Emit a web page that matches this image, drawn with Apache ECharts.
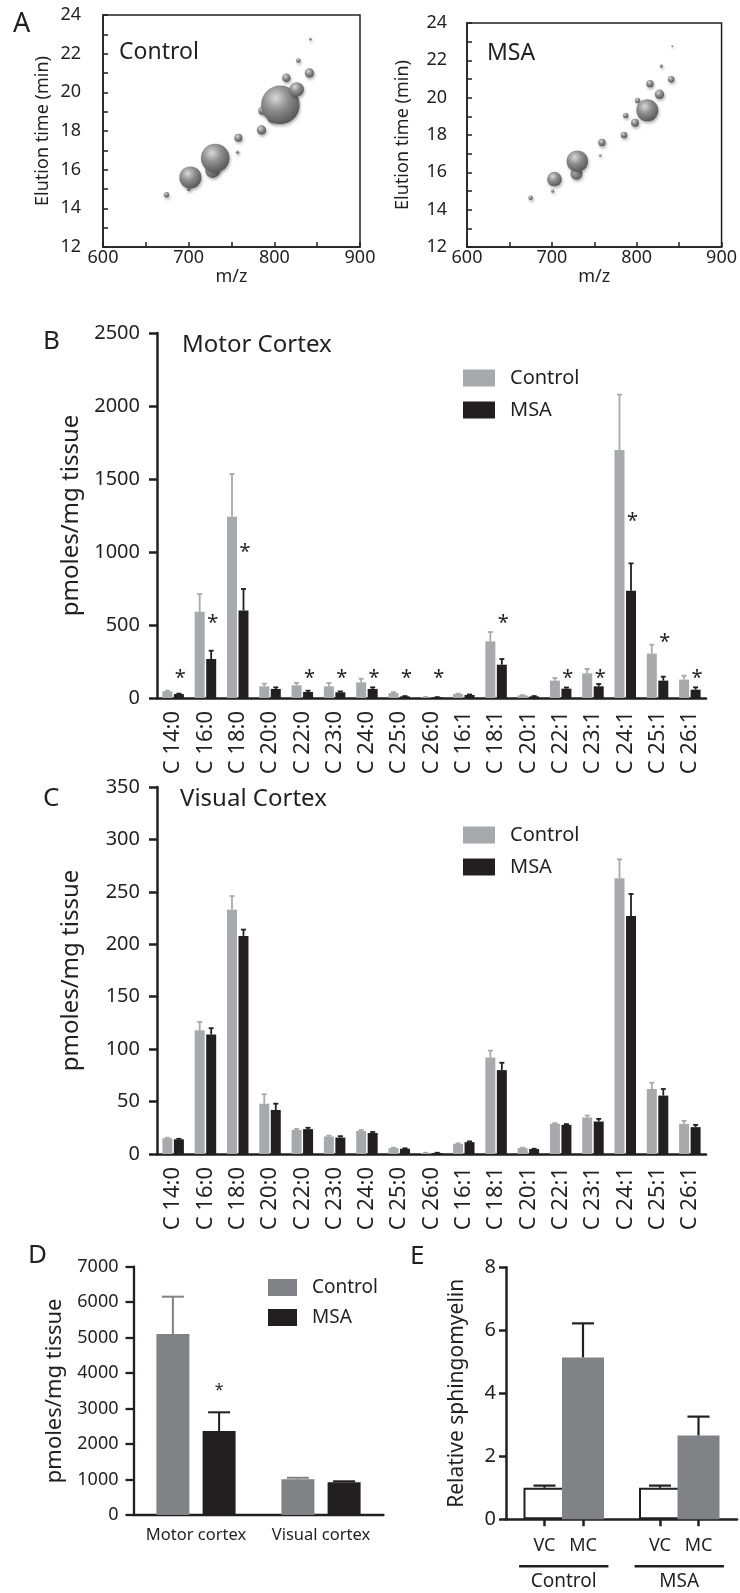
<!DOCTYPE html>
<html>
<head>
<meta charset="utf-8">
<script src="https://cdn.jsdelivr.net/npm/echarts@6/dist/echarts.min.js"></script>
<style>
  html, body { margin: 0; padding: 0; background: #fff; }
  #main { width: 740px; height: 1593px; }
</style>
</head>
<body>
<div id="main"></div>
<script>
// ---- data ----

// A: [m/z, elution time (min), relative abundance]
var bubblesControl = [
  [674, 14.7, 2.7], [700, 15.0, 2], [702, 15.6, 11], [728, 15.95, 7.3], [731, 16.6, 14.3],
  [757, 16.9, 1.7], [758, 17.65, 4], [785, 18.05, 4.7], [786, 19.05, 4], [798, 18.7, 5.3],
  [801, 19.8, 4.5], [807, 19.35, 19.3], [826, 20.15, 7.3], [814, 20.75, 4.3], [828, 21.65, 2.3],
  [841, 21.0, 4.7], [842, 22.75, 1.3]
];
var bubblesMSA = [
  [675, 14.64, 2.3], [701, 15.0, 1.7], [703, 15.64, 7.3], [729, 15.93, 6], [730, 16.6, 10.7],
  [757, 16.9, 1.3], [759, 17.6, 3.7], [785, 18.0, 3.3], [787, 19.05, 2.7], [798, 18.66, 4],
  [801, 19.85, 2.7], [812.5, 19.32, 11], [815.6, 20.75, 3.7], [826.8, 20.18, 4.7], [829, 21.7, 1.7],
  [840.6, 20.98, 3.3], [842, 22.75, 1]
];

// B / C: ceramide species
var fattyAcids = ['C 14:0', 'C 16:0', 'C 18:0', 'C 20:0', 'C 22:0', 'C 23:0', 'C 24:0', 'C 25:0', 'C 26:0',
  'C 16:1', 'C 18:1', 'C 20:1', 'C 22:1', 'C 23:1', 'C 24:1', 'C 25:1', 'C 26:1'];

var motorControl    = [46, 590, 1242, 80, 87, 80, 107, 34, 5, 27, 388, 18, 119, 169, 1699, 304, 126];
var motorControlErr = [50, 712, 1534, 98, 103, 103, 132, 40, 7, 30, 452, 20, 137, 199, 2078, 365, 153];
var motorMSA        = [27, 267, 600, 62, 41, 39, 62, 11, 5, 21, 228, 11, 64, 80, 735, 119, 57];
var motorMSAErr     = [30, 324, 747, 73, 50, 45, 73, 13, 6, 24, 267, 13, 72, 96, 922, 146, 73];
var motorStars      = [171, 548, 1032, null, 171, 171, 171, 171, 171, null, 548, null, 171, 171, 1244, 418, 171];

var visualControl    = [15, 118, 233, 48, 23, 16.7, 22, 5.6, 1, 9.7, 92, 5.6, 28.8, 34.8, 263, 62, 28.8];
var visualControlErr = [15.5, 126, 246, 57, 24, 17.5, 23, 6, 1.2, 10.2, 98.6, 6, 29.4, 36.7, 281, 68, 31.6];
var visualMSA        = [14, 114, 208, 42, 23.7, 15.7, 20, 5, 1, 11.3, 80, 4.7, 27.8, 31, 227, 55.7, 25.6];
var visualMSAErr     = [14.5, 120, 214, 48, 25, 17, 21, 5.4, 1.2, 12, 87, 5, 28.5, 33.5, 248, 62, 27.8];

// D: total ceramide
var regions = ['Motor cortex', 'Visual cortex'];
var totalControl    = [5100, 1005];
var totalControlErr = [6155, 1050];
var totalMSA        = [2368, 921];
var totalMSAErr     = [2895, 950];
var totalStars      = [3620, null];

// E: relative sphingomyelin (empty slots separate the two groups)
var relCats   = ['', 'VC', 'MC', '', 'VC', 'MC', ''];
var relValues = [null, 1.0, 5.14, null, 1.0, 2.66, null];
var relErr    = [null, 1.07, 6.22, null, 1.07, 3.26, null];
var relGroups = ['Control', 'MSA'];

// ---- chart ----
var FONT = 'Noto Sans';
var INK = '#231f20';
var LIGHT = '#a7a9ac';
var MID = '#808285';

var chart = echarts.init(document.getElementById('main'));

function txt(size) {
  return { color: INK, fontFamily: FONT, fontSize: size };
}
function plain(v) { return String(v); }

function errSeries(xi, vals, tops, offset, color, capW, lw) {
  var data = [];
  vals.forEach(function (v, i) {
    if (v != null && tops[i] != null) data.push([i, v, tops[i]]);
  });
  return {
    type: 'custom', xAxisIndex: xi, yAxisIndex: xi, silent: true, z: 3,
    encode: { x: 0, y: [1, 2] },
    data: data,
    renderItem: function (params, api) {
      var base = api.coord([api.value(0), api.value(1)]);
      var top = api.coord([api.value(0), api.value(2)]);
      var x = base[0] + offset;
      var st = { stroke: color, lineWidth: lw };
      return {
        type: 'group', children: [
          { type: 'line', shape: { x1: x, y1: base[1], x2: x, y2: top[1] }, style: st },
          { type: 'line', shape: { x1: x - capW / 2, y1: top[1], x2: x + capW / 2, y2: top[1] }, style: st }
        ]
      };
    }
  };
}

function starSeries(xi, stars, offset, size) {
  var data = [];
  stars.forEach(function (v, i) { if (v != null) data.push([i, v]); });
  return {
    type: 'custom', xAxisIndex: xi, yAxisIndex: xi, silent: true, z: 4,
    data: data,
    renderItem: function (params, api) {
      var p = api.coord([api.value(0), api.value(1)]);
      return {
        type: 'text', x: p[0] + offset, y: p[1] + size * 0.25,
        style: {
          text: '*', fill: INK, font: size + 'px "' + FONT + '"',
          align: 'center', verticalAlign: 'middle', textAlign: 'center', textVerticalAlign: 'middle'
        }
      };
    }
  };
}

function bubbleSeries(gi, data) {
  return {
    type: 'scatter', xAxisIndex: gi, yAxisIndex: gi, data: data,
    symbolSize: function (d) { return d[2] * 2; },
    itemStyle: {
      color: new echarts.graphic.RadialGradient(0.38, 0.32, 0.72, [
        { offset: 0, color: '#d8d8d8' },
        { offset: 0.45, color: '#8e8e8e' },
        { offset: 1, color: '#555555' }
      ]),
      opacity: 1,
      shadowBlur: 3, shadowColor: 'rgba(0,0,0,0.3)', shadowOffsetX: 1, shadowOffsetY: 2
    }
  };
}

function bubbleX(gi) {
  return {
    gridIndex: gi, type: 'value', min: 600, max: 900, interval: 50,
    axisLine: { lineStyle: { color: INK, width: 1.5 } },
    axisTick: { inside: true, length: 5, lineStyle: { color: INK, width: 1.5 } },
    axisLabel: Object.assign(txt(18), { margin: 2, formatter: function (v) { return v % 100 === 0 ? String(v) : ''; } }),
    splitLine: { show: false },
    name: 'm/z', nameLocation: 'middle', nameGap: 19, nameTextStyle: txt(18)
  };
}

function bubbleY(gi, margin, gap) {
  return {
    gridIndex: gi, type: 'value', min: 12, max: 24, interval: 1,
    axisLine: { lineStyle: { color: INK, width: 1.5 } },
    axisTick: { inside: true, length: 5, lineStyle: { color: INK, width: 1.5 } },
    axisLabel: Object.assign(txt(18), { margin: margin, formatter: function (v) { return v % 2 === 0 ? String(v) : ''; } }),
    splitLine: { show: false },
    name: 'Elution time (min)', nameLocation: 'middle', nameGap: gap, nameTextStyle: txt(18)
  };
}

function acidX(gi) {
  return {
    gridIndex: gi, type: 'category', data: fattyAcids,
    axisLine: { lineStyle: { color: INK, width: 2.5 } },
    axisTick: { alignWithLabel: true, length: 8, lineStyle: { color: INK, width: 2.5 } },
    axisLabel: Object.assign(txt(22), { rotate: 90, interval: 0, margin: 13 })
  };
}

function countY(gi, max, interval, fontSize, margin, nameSize, gap, width) {
  return {
    gridIndex: gi, type: 'value', min: 0, max: max, interval: interval,
    axisLine: { show: true, lineStyle: { color: INK, width: width } },
    axisTick: { show: true, length: 8, lineStyle: { color: INK, width: width } },
    axisLabel: Object.assign(txt(fontSize), { margin: margin, formatter: plain }),
    splitLine: { show: false },
    name: 'pmoles/mg tissue', nameLocation: 'middle', nameGap: gap, nameTextStyle: txt(nameSize)
  };
}

var legendBase = {
  orient: 'vertical', icon: 'rect', padding: 0, selectedMode: false,
  itemWidth: 32, itemHeight: 17, itemGap: 12,
  textStyle: Object.assign(txt(20), { padding: [0, 0, 0, 10] })
};

var option = {
  animation: false,
  backgroundColor: '#fff',
  grid: [
    { left: 103, top: 15, width: 257, height: 232, show: true, borderColor: INK, borderWidth: 1.5 },
    { left: 467, top: 23, width: 259, height: 224, show: true, borderColor: INK, borderWidth: 1.5 },
    { left: 157, top: 333, width: 549, height: 365 },
    { left: 157, top: 787, width: 549, height: 367 },
    { left: 133.5, top: 1266.7, width: 250, height: 248.3 },
    { left: 506, top: 1267.3, width: 252.6, height: 252 }
  ],
  xAxis: [
    bubbleX(0),
    bubbleX(1),
    acidX(2),
    acidX(3),
    {
      gridIndex: 4, type: 'category', data: regions,
      axisLine: { lineStyle: { color: INK, width: 2.3 } },
      axisTick: { alignWithLabel: true, length: 5, lineStyle: { color: INK, width: 2.3 } },
      axisLabel: Object.assign(txt(16.5), { margin: 12, interval: 0 })
    },
    {
      gridIndex: 5, type: 'category', data: relCats, boundaryGap: false,
      axisLine: { lineStyle: { color: INK, width: 2.5 } },
      axisTick: {
        length: 7, lineStyle: { color: INK, width: 2.5 },
        interval: function (idx, val) { return val !== ''; }
      },
      axisLabel: Object.assign(txt(18), { margin: 18, interval: 0 })
    }
  ],
  yAxis: [
    bubbleY(0, 22, 51),
    bubbleY(1, 20, 55),
    countY(2, 2500, 500, 20, 17, 24, 74, 2.5),
    countY(3, 350, 50, 20, 17, 24, 74, 2.5),
    countY(4, 7000, 1000, 18, 15, 22, 68, 2.3),
    {
      gridIndex: 5, type: 'value', min: 0, max: 8, interval: 2,
      axisLine: { show: true, lineStyle: { color: INK, width: 2.5 } },
      axisTick: { show: true, length: 7, lineStyle: { color: INK, width: 2.5 } },
      axisLabel: Object.assign(txt(20), { margin: 10, formatter: plain }),
      splitLine: { show: false },
      name: 'Relative sphingomyelin', nameLocation: 'middle', nameGap: 38, nameTextStyle: txt(21)
    }
  ],
  legend: [
    Object.assign({}, legendBase, {
      left: 463, top: 368,
      data: [{ name: 'Control', itemStyle: { color: LIGHT } }, { name: 'MSA', itemStyle: { color: INK } }]
    }),
    Object.assign({}, legendBase, {
      left: 463, top: 825,
      data: [{ name: 'Control', itemStyle: { color: LIGHT } }, { name: 'MSA', itemStyle: { color: INK } }]
    }),
    Object.assign({}, legendBase, {
      left: 268, top: 1278, itemWidth: 29, itemGap: 11,
      textStyle: Object.assign(txt(19), { padding: [0, 0, 0, 10] }),
      data: [{ name: 'Control', itemStyle: { color: MID } }, { name: 'MSA', itemStyle: { color: INK } }]
    })
  ],
  series: [
    bubbleSeries(0, bubblesControl),
    bubbleSeries(1, bubblesMSA),

    { type: 'bar', name: 'Control', xAxisIndex: 2, yAxisIndex: 2, data: motorControl, barWidth: 10, barGap: '15%', itemStyle: { color: LIGHT } },
    { type: 'bar', name: 'MSA', xAxisIndex: 2, yAxisIndex: 2, data: motorMSA, barWidth: 10, barGap: '15%', itemStyle: { color: INK } },
    errSeries(2, motorControl, motorControlErr, -5.75, LIGHT, 5, 1.8),
    errSeries(2, motorMSA, motorMSAErr, 5.75, INK, 5, 1.8),
    starSeries(2, motorStars, 7.2, 20),

    { type: 'bar', name: 'Control', xAxisIndex: 3, yAxisIndex: 3, data: visualControl, barWidth: 10, barGap: '15%', itemStyle: { color: LIGHT } },
    { type: 'bar', name: 'MSA', xAxisIndex: 3, yAxisIndex: 3, data: visualMSA, barWidth: 10, barGap: '15%', itemStyle: { color: INK } },
    errSeries(3, visualControl, visualControlErr, -5.75, LIGHT, 5, 1.8),
    errSeries(3, visualMSA, visualMSAErr, 5.75, INK, 5, 1.8),

    { type: 'bar', name: 'Control', xAxisIndex: 4, yAxisIndex: 4, data: totalControl, barWidth: 33, barGap: '40%', itemStyle: { color: MID } },
    { type: 'bar', name: 'MSA', xAxisIndex: 4, yAxisIndex: 4, data: totalMSA, barWidth: 33, barGap: '40%', itemStyle: { color: INK } },
    errSeries(4, totalControl, totalControlErr, -23.1, MID, 22, 2),
    errSeries(4, totalMSA, totalMSAErr, 23.1, INK, 22, 2),
    starSeries(4, totalStars, 23.1, 16),

    {
      type: 'bar', xAxisIndex: 5, yAxisIndex: 5, barWidth: 42,
      data: relValues.map(function (v, i) {
        var isVC = relCats[i] === 'VC';
        return {
          value: v,
          itemStyle: isVC ? { color: '#fff', borderColor: INK, borderWidth: 2 } : { color: MID }
        };
      })
    },
    errSeries(5, relValues, relErr, 0, INK, 22, 2.2)
  ]
};

chart.setOption(option);

// annotations: panel letters, titles, group brackets under E
var graphics = [];
function label(text, x, y, size, align) {
  graphics.push({
    type: 'text', x: x, y: y, z: 10,
    style: {
      text: text, fill: INK, font: size + 'px "' + FONT + '"',
      align: align || 'left', verticalAlign: 'middle',
      textAlign: align || 'left', textVerticalAlign: 'middle'
    }
  });
}
label('A', 13, 24, 27);
label('Control', 119, 52, 23);
label('MSA', 487, 53, 23);
label('B', 43, 342, 26);
label('Motor Cortex', 182, 345, 24);
label('C', 43, 799, 26);
label('Visual Cortex', 180, 799, 24);
label('D', 28, 1256, 26);
label('E', 410, 1257, 26);

var y0 = chart.convertToPixel({ yAxisIndex: 5 }, 0);
var pts = relCats.map(function (c, i) { return chart.convertToPixel({ xAxisIndex: 5 }, i); });
var step = pts[2] - pts[1];
[[1, 2], [4, 5]].forEach(function (pair, g) {
  var cx = (pts[pair[0]] + pts[pair[1]]) / 2;
  graphics.push({
    type: 'line', z: 10,
    shape: { x1: cx - step * 1.16, y1: y0 + 47, x2: cx + step * 1.16, y2: y0 + 47 },
    style: { stroke: INK, lineWidth: 2.5 }
  });
  label(relGroups[g], cx, y0 + 62, 19, 'center');
});

chart.setOption({ graphic: graphics });
</script>
</body>
</html>
